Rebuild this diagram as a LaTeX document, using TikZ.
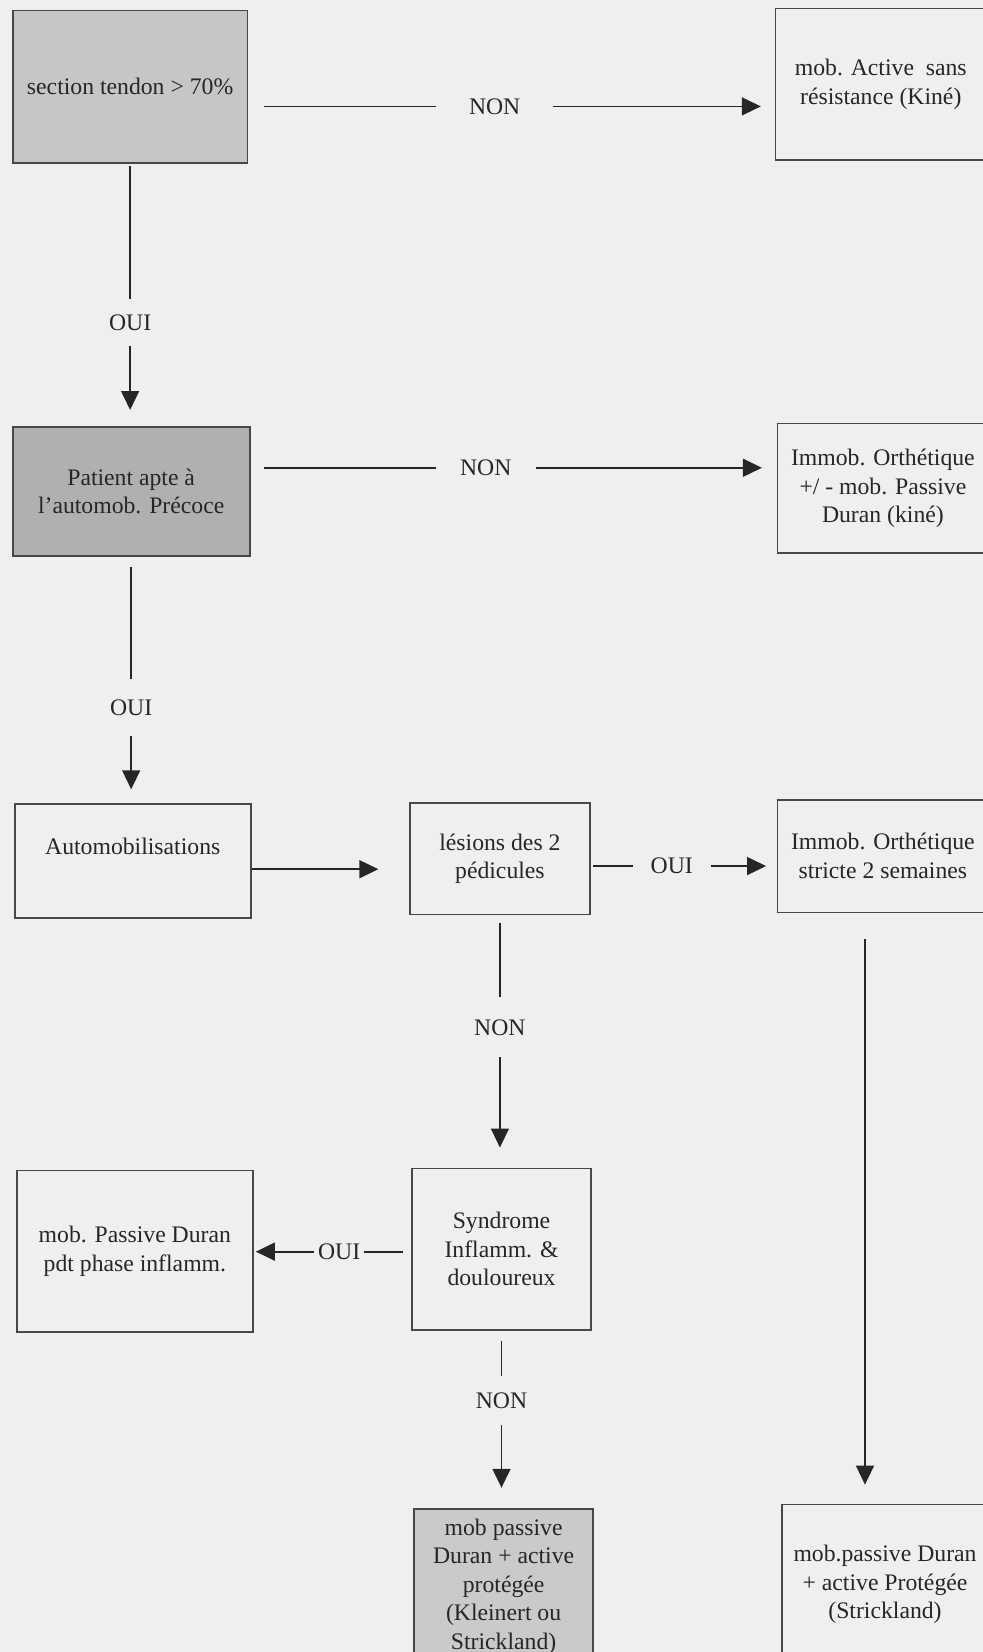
\documentclass[tikz,border=0pt]{standalone}
\usepackage{fontspec}
\setmainfont{Liberation Serif}
\usetikzlibrary{arrows.meta}

\definecolor{paper}{HTML}{EFEFEF}
\definecolor{shadeA}{HTML}{C6C6C6}
\definecolor{shadeB}{HTML}{B0B0B0}
\definecolor{shadeC}{HTML}{CACACA}
\definecolor{ink}{HTML}{262626}

\begin{document}
\begin{tikzpicture}[x=1pt, y=-1pt,
    box/.style={draw=ink!85, line width=1.7pt, align=center, inner sep=0pt,
        font=\fontsize{22.5}{27}\selectfont, text=ink},
    link/.style={draw=ink, line width=1.6pt, -{Triangle[length=18pt,width=17pt]}},
    tag/.style={fill=paper, inner xsep=0pt, inner ysep=3pt,
        font=\fontsize{22.5}{27}\selectfont, text=ink}]
    \useasboundingbox (0,0) rectangle (933,1568);
    \fill[paper] (0,0) rectangle (933,1568);
    \clip (0,0) rectangle (933,1568);

    % boxes
    \node[box, fill=shadeA, minimum width=223pt, minimum height=145pt] (b1) at (123.5,82.5) {section tendon > 70\%};
    \node[box, minimum width=200pt, minimum height=144pt] (b2) at (836,80) {mob. Active\ \ sans\\résistance (Kiné)};
    \node[box, fill=shadeB, minimum width=225pt, minimum height=123pt] (b3) at (124.5,466.5) {Patient apte à\\l'automob. Précoce};
    \node[box, minimum width=200pt, minimum height=123pt] (b4) at (838,463.5) {Immob. Orthétique\\+/ - mob. Passive\\Duran (kiné)};
    \node[box, minimum width=224pt, minimum height=108pt] (b5) at (126,817) {Automobilisations\\\mbox{}};
    \node[box, minimum width=171pt, minimum height=106pt] (b6) at (474.5,815) {lésions des 2\\pédicules};
    \node[box, minimum width=200pt, minimum height=107pt] (b7) at (838,812.5) {Immob. Orthétique\\stricte 2 semaines};
    \node[box, minimum width=224pt, minimum height=153pt] (b8) at (128,1187.5) {mob. Passive Duran\\pdt phase inflamm.};
    \node[box, minimum width=170pt, minimum height=153pt] (b9) at (476,1185.5) {Syndrome\\Inflamm. \&\\douloureux};
    \node[box, fill=shadeC, minimum width=170pt, minimum height=148pt] (b10) at (478,1506) {mob passive\\Duran + active\\protégée\\(Kleinert ou\\Strickland)};
    \node[box, minimum width=196pt, minimum height=152pt] (b11) at (840,1504) {mob.passive Duran\\+ active Protégée\\(Strickland)};

    % levels of the connectors
    \coordinate (r1) at (0,101);
    \coordinate (r2) at (0,444);
    \coordinate (r5) at (0,825);
    \coordinate (r6) at (0,822);
    \coordinate (r9) at (0,1188);
    \coordinate (c7) at (821,0);

    % connectors
    \draw[link, shorten <=15pt, shorten >=13pt] (b1.east |- r1) -- node[tag, pos=0.468, inner xsep=31pt] {NON} (b2.west |- r1);
    \draw[link, shorten <=13pt, shorten >=14pt] (b3.east |- r2) -- node[tag, pos=0.447, inner xsep=23pt] {NON} (b4.west |- r2);
    \draw[link, shorten <=2pt, shorten >=15pt] (b1.south) -- node[tag, pos=0.606, inner ysep=14.5pt] {OUI} (b1.south |- b3.north);
    \draw[link, shorten <=9pt, shorten >=13pt] (b3.south) -- node[tag, pos=0.611, inner ysep=19.5pt] {OUI} (b3.south |- b5.north);
    \draw[link, shorten >=29pt] (b5.east |- r5) -- (b6.west |- r5);
    \draw[link, shorten <=2pt, shorten >=10pt] (b6.east |- r6) -- node[tag, pos=0.435, inner xsep=17pt] {OUI} (b7.west |- r6);
    \draw[link, shorten <=7pt, shorten >=19pt] (b6.south) -- node[tag, pos=0.444, inner ysep=21pt] {NON} (b6.south |- b9.north);
    \draw[link, shorten <=24pt, shorten >=18pt] (b7.south -| c7) -- (b11.north -| c7);
    \draw[link, shorten <=8pt, shorten >=2pt] (b9.west |- r9) -- node[tag, pos=0.457, inner xsep=4pt] {OUI} (b8.east |- r9);
    \draw[link, shorten <=10pt, shorten >=19pt] (b9.south) -- node[tag, pos=0.394, inner ysep=16pt] {NON} (b9.south |- b10.north);
\end{tikzpicture}
\end{document}
